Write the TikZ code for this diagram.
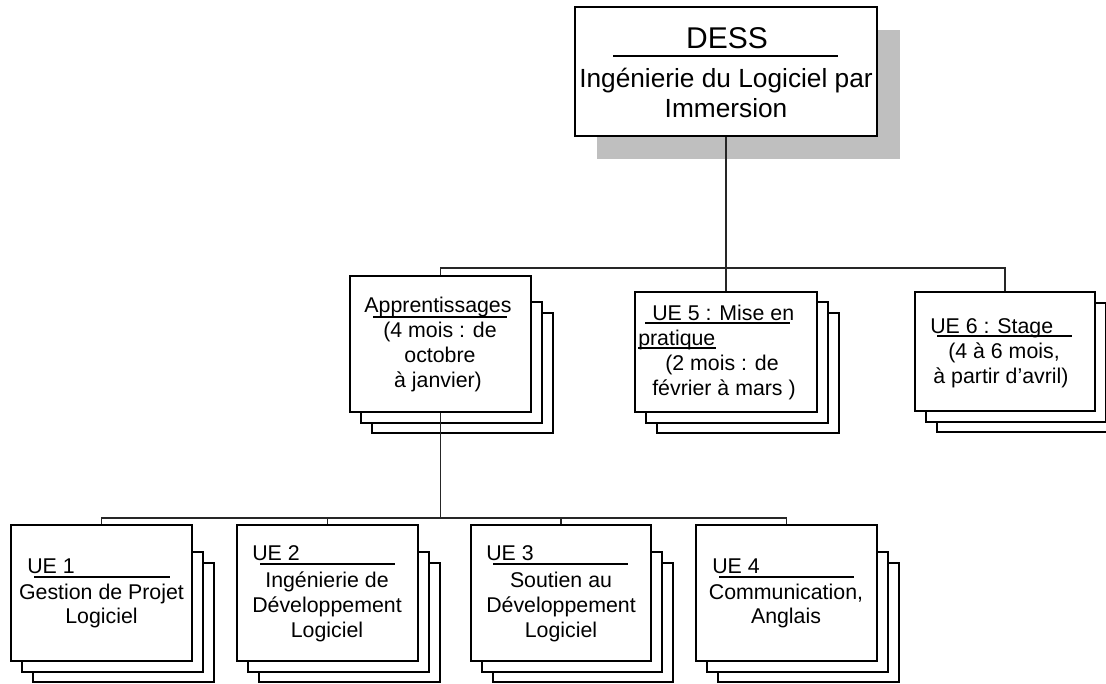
\documentclass[tikz,border=0pt]{standalone}
\usepackage{fontspec}
\setmainfont{Liberation Sans}
\usetikzlibrary{fit}
\tikzset{
  box/.style={draw=black, line width=1.4pt, fill=white, inner sep=0pt},
  back/.style={draw=black, line width=1.4pt, fill=white},
  shadowbox/.style={fill=gray!50, draw=none},
  conn/.style={draw=black!85, line width=0.8pt},
  uline/.style={draw=black, line width=1pt},
  txt/.style={inner sep=0pt, anchor=base, font=\fontsize{16pt}{18pt}\selectfont},
  txtl/.style={txt, anchor=base west},
  toptxt/.style={inner sep=0pt, anchor=base, font=\fontsize{19.7pt}{22pt}\selectfont},
  titletxt/.style={inner sep=0pt, anchor=base, font=\fontsize{22.5pt}{26pt}\selectfont}
}
\newcommand\stk[7]{%
  \draw[back] (#2+22,#7) rectangle (#4+22,#5+21);
  \draw[back] (#2+11,#6) rectangle (#4+11,#5+11);
  \node[box, fit={(#2,#3) (#4,#5)}] (#1) {};
}
\begin{document}
\begin{tikzpicture}[x=0.75pt, y=-0.75pt]
\useasboundingbox (0,0) rectangle (1106,683);
\clip (0,0) rectangle (1106,683);

% top box with shadow
\fill[shadowbox] (597,30) rectangle (900,159);
\node[box, fit={(575,7) (877,136)}] (dess) {};
\node[titletxt] (tDESS) at (727,48) {DESS};
\draw[uline] (613,56) -- (838,56);
\node[toptxt] (tIng) at (726,87) {Ingénierie du Logiciel par};
\node[toptxt] (tImm) at (726,117) {Immersion};

% middle level
\stk{app}{350}{276}{531}{412}{302}{313}
\stk{ue5}{635}{292}{817}{412}{302}{313}
\stk{ue6}{915}{292}{1095}{411}{303}{314}

\node[txt] (tApp) at (438,312) {Apprentissages};
\draw[uline] (373,317) -- (507,317);
\node[txt] (tApp2) at (440,337) {(4 mois : de};
\node[txt] (tApp3) at (440,362) {octobre};
\node[txt] (tApp4) at (438,387) {à janvier)};

\node[txtl] (tUe5a) at (652,320) {UE 5 : Mise en};
\draw[uline] (645,323) -- (790,323);
\node[txtl] (tUe5b) at (638,345) {pratique};
\draw[uline] (638,348) -- (716,348);
\node[txt] (tUe5c) at (722,370) {(2 mois : de};
\node[txt] (tUe5d) at (724,395) {février à mars )};

\node[txtl] (tUe6a) at (930,333) {UE 6 : Stage};
\draw[uline] (937,336) -- (1072,336);
\node[txt] (tUe6b) at (1004,358) {(4 à 6 mois,};
\node[txt] (tUe6c) at (1001,383) {à partir d\symbol{39}avril)};

% bottom level
\stk{ue1}{11}{525}{192}{661}{552}{563}
\stk{ue2}{237}{525}{418}{661}{552}{563}
\stk{ue3}{471}{525}{651}{661}{552}{563}
\stk{ue4}{696}{525}{877}{661}{552}{563}

\node[txtl] (tUe1a) at (27,573) {UE 1};
\draw[uline] (34,577) -- (170,577);
\node[txt] (tUe1b) at (101.5,599) {Gestion de Projet};
\node[txt] (tUe1c) at (101.5,623) {Logiciel};

\node[txtl] (tUe2a) at (252,560) {UE 2};
\draw[uline] (260,564) -- (395,564);
\node[txt] (tUe2b) at (327,587) {Ingénierie de};
\node[txt] (tUe2c) at (327,612) {Développement};
\node[txt] (tUe2d) at (327,637) {Logiciel};

\node[txtl] (tUe3a) at (486,560) {UE 3};
\draw[uline] (493,564) -- (628,564);
\node[txt] (tUe3b) at (561,587) {Soutien au};
\node[txt] (tUe3c) at (561,612) {Développement};
\node[txt] (tUe3d) at (561,637) {Logiciel};

\node[txtl] (tUe4a) at (712,573) {UE 4};
\draw[uline] (719,577) -- (854,577);
\node[txt] (tUe4b) at (786,599) {Communication,};
\node[txt] (tUe4c) at (786,623) {Anglais};

% connectors
\coordinate (busT) at (0,268);
\coordinate (busB) at (0,518);
\draw[conn] (dess.south) -- (dess.south |- busT);
\draw[conn] (app.north) -- (app.north |- busT) -| (ue6.north);
\draw[conn] (ue5.north) -- (ue5.north |- busT);
\draw[conn] (app.south) -- (app.south |- busB);
\draw[conn] (ue1.north) -- (ue1.north |- busB) -| (ue4.north);
\draw[conn] (ue2.north) -- (ue2.north |- busB);
\draw[conn] (ue3.north) -- (ue3.north |- busB);
\end{tikzpicture}
\end{document}
